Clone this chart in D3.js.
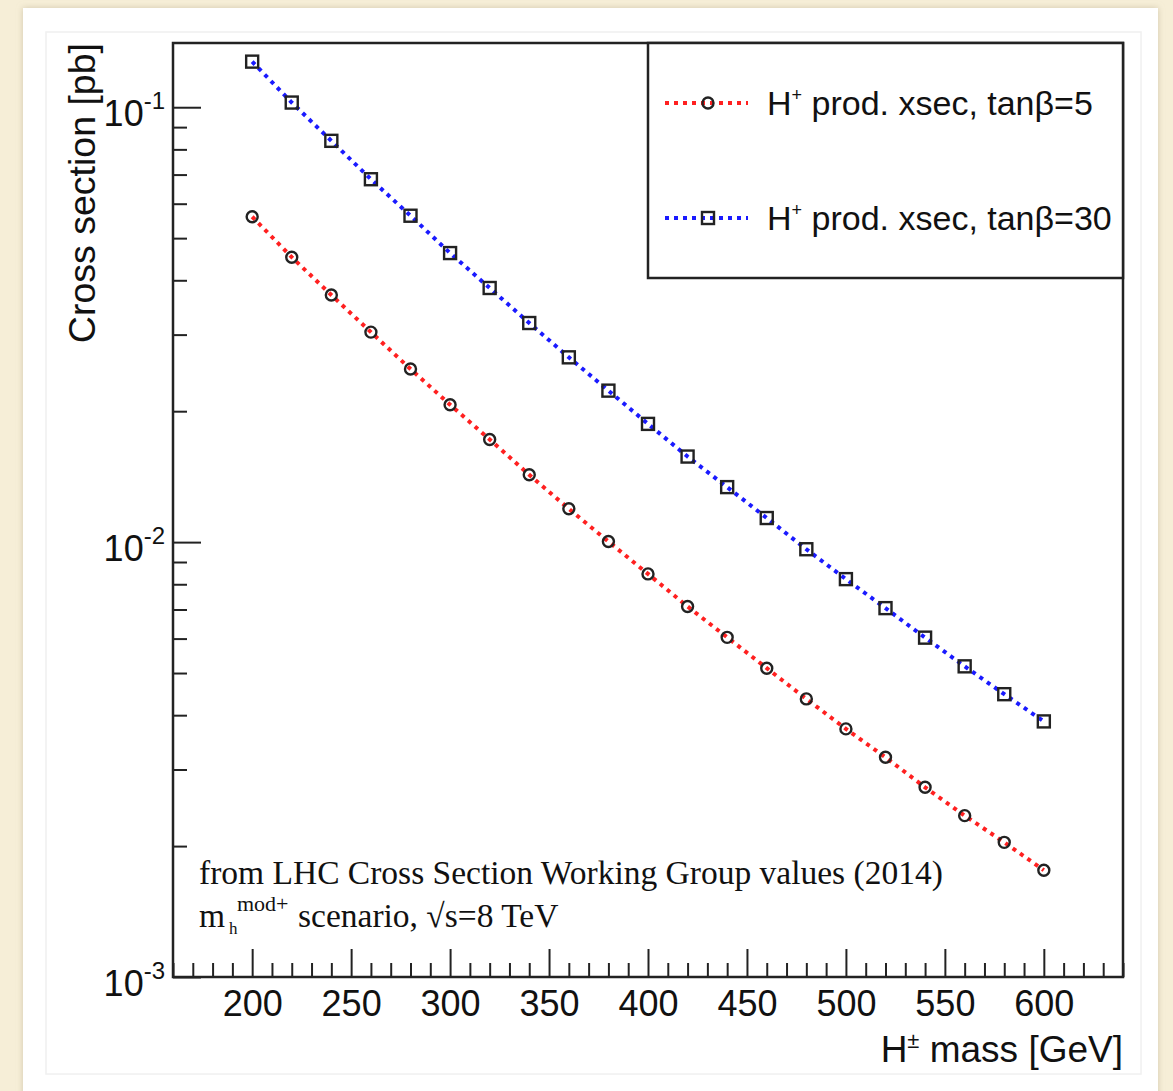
<!DOCTYPE html>
<html>
<head>
<meta charset="utf-8">
<script src="https://cdn.jsdelivr.net/npm/d3@7"></script>
<style>
  body { margin: 0; background: #f6eed7; }
  svg text { font-family: "Liberation Sans", Arial, Helvetica, sans-serif; fill: #111; }
  .serif { font-family: "Liberation Serif", "Times New Roman", serif; }
</style>
</head>
<body>
<div id="chart"></div>
<script>
// H+ mass points [GeV]
var masses = [200, 220, 240, 260, 280, 300, 320, 340, 360, 380, 400,
              420, 440, 460, 480, 500, 520, 540, 560, 580, 600];

// production cross section [pb], tan(beta)=5
var xsecTan5 = [0.0560, 0.0452, 0.0370, 0.0304, 0.0250, 0.0207, 0.01722, 0.01428, 0.01193, 0.01003, 0.00845,
                0.00711, 0.00604, 0.00513, 0.00436, 0.00372, 0.00320, 0.00273, 0.00235, 0.00204, 0.00176];

// production cross section [pb], tan(beta)=30
var xsecTan30 = [0.1273, 0.1025, 0.0837, 0.0683, 0.0563, 0.0462, 0.0384, 0.0319, 0.0266, 0.0223, 0.0187,
                 0.01573, 0.01338, 0.01136, 0.00963, 0.00822, 0.00705, 0.00603, 0.00518, 0.00447, 0.00387];

var xMajorTicks = [200, 250, 300, 350, 400, 450, 500, 550, 600];
var yDecadeTicks = [0.001, 0.01, 0.1];
var yDecadeExp = ["-3", "-2", "-1"];

var svgWidth = 1173;
var svgHeight = 1091;

var margin = { top: 43, right: 50, bottom: 114, left: 173 };
var width = svgWidth - margin.left - margin.right;
var height = svgHeight - margin.top - margin.bottom;

var svg = d3.select("#chart")
  .append("svg")
  .attr("width", svgWidth)
  .attr("height", svgHeight);

// paper card behind the plot
var defs = svg.append("defs");
var shadow = defs.append("filter").attr("id", "shadow")
  .attr("x", "-5%").attr("y", "-5%").attr("width", "110%").attr("height", "110%");
shadow.append("feDropShadow")
  .attr("dx", 0).attr("dy", 0).attr("stdDeviation", 3)
  .attr("flood-color", "#b8ad90").attr("flood-opacity", 0.6);

svg.append("rect")
  .attr("x", 23).attr("y", 8)
  .attr("width", 1135).attr("height", 1100)
  .attr("fill", "#fff")
  .attr("filter", "url(#shadow)");

svg.append("rect")
  .attr("x", 46).attr("y", 32)
  .attr("width", 1095).attr("height", 1042)
  .attr("fill", "none")
  .attr("stroke", "#f0f0f0")
  .attr("stroke-width", 1.5);

var chartGroup = svg.append("g")
  .attr("transform", `translate(${margin.left}, ${margin.top})`);

var xScale = d3.scaleLinear()
  .domain([160, 640])
  .range([0, width]);

var yScale = d3.scaleLog()
  .domain([0.001, 0.1405])
  .range([height, 0]);

// minor ticks
var xMinorTicks = d3.range(160, 641, 10).filter(d => d % 50 !== 0);
var yMinorTicks = [];
[0.001, 0.01, 0.1].forEach(function(dec) {
  for (var m = 2; m <= 9; m++) {
    var v = dec * m;
    if (v < 0.1405) yMinorTicks.push(v);
  }
});

// x axis (ticks point inwards)
chartGroup.append("g")
  .attr("transform", `translate(0, ${height})`)
  .call(d3.axisBottom(xScale).tickValues(xMinorTicks).tickSize(-14).tickFormat(""));

var xMajorAxis = chartGroup.append("g")
  .attr("transform", `translate(0, ${height})`)
  .call(d3.axisBottom(xScale).tickValues(xMajorTicks).tickSize(-28).tickPadding(13)
    .tickFormat(d3.format("d")));

xMajorAxis.selectAll("text")
  .style("font-size", "36px")
  .attr("dy", "0.72em");

// y axis
chartGroup.append("g")
  .call(d3.axisLeft(yScale).tickValues(yMinorTicks).tickSize(-14).tickFormat(""));

chartGroup.append("g")
  .call(d3.axisLeft(yScale).tickValues(yDecadeTicks).tickSize(-28).tickFormat(""));

chartGroup.selectAll(".domain").remove();
chartGroup.selectAll(".tick line")
  .attr("stroke", "#222")
  .attr("stroke-width", 2);

// y tick labels 10^n
var yLabels = chartGroup.append("g");
yDecadeTicks.forEach(function(v, i) {
  var t = yLabels.append("text")
    .attr("x", -8)
    .attr("y", yScale(v) + 19)
    .attr("text-anchor", "end")
    .style("font-size", "36px");
  t.append("tspan").text("10");
  t.append("tspan")
    .attr("dy", -17)
    .style("font-size", "24px")
    .text(yDecadeExp[i]);
});

// frame
chartGroup.append("rect")
  .attr("width", width)
  .attr("height", height)
  .attr("fill", "none")
  .attr("stroke", "#222")
  .attr("stroke-width", 2.5);

// series
var series = [
  { values: xsecTan5, color: "#ff2020", marker: "circle", label: "=5" },
  { values: xsecTan30, color: "#1a1aff", marker: "square", label: "=30" }
];

var line = d3.line()
  .x(d => xScale(d.m))
  .y(d => yScale(d.v));

function drawMarker(g, kind, cx, cy) {
  if (kind === "circle") {
    g.append("circle")
      .attr("cx", cx).attr("cy", cy).attr("r", 5.5)
      .attr("fill", "none")
      .attr("stroke", "#222")
      .attr("stroke-width", 2.4);
  } else {
    g.append("rect")
      .attr("x", cx - 6).attr("y", cy - 6)
      .attr("width", 12).attr("height", 12)
      .attr("fill", "none")
      .attr("stroke", "#222")
      .attr("stroke-width", 2.4);
  }
}

series.forEach(function(s) {
  var pts = masses.map((m, i) => ({ m: m, v: s.values[i] }));

  chartGroup.append("path")
    .datum(pts)
    .attr("d", line)
    .attr("fill", "none")
    .attr("stroke", s.color)
    .attr("stroke-width", 4)
    .attr("stroke-dasharray", "4,5");

  var mg = chartGroup.append("g");
  pts.forEach(function(p) {
    drawMarker(mg, s.marker, xScale(p.m), yScale(p.v));
  });
});

// legend
var legend = svg.append("g").attr("transform", "translate(648, 43)");

legend.append("rect")
  .attr("width", 475)
  .attr("height", 235)
  .attr("fill", "#fff")
  .attr("stroke", "#222")
  .attr("stroke-width", 2.5);

var rowY = [60, 175];
series.forEach(function(s, i) {
  var row = legend.append("g").attr("transform", `translate(0, ${rowY[i]})`);
  row.append("line")
    .attr("x1", 17).attr("x2", 100)
    .attr("y1", 0).attr("y2", 0)
    .attr("stroke", s.color)
    .attr("stroke-width", 4)
    .attr("stroke-dasharray", "4,5");
  drawMarker(row, s.marker, 60, 0);

  var t = row.append("text")
    .attr("x", 119)
    .attr("y", 12)
    .style("font-size", "34px");
  t.append("tspan").text("H");
  t.append("tspan").attr("dy", -14).style("font-size", "18px").text("+");
  t.append("tspan").attr("dy", 14).text(" prod. xsec, tan\u03b2" + s.label);
});

// axis titles
svg.append("text")
  .attr("x", margin.left + width)
  .attr("y", 1062)
  .attr("text-anchor", "end")
  .style("font-size", "37px")
  .call(function(t) {
    t.append("tspan").text("H");
    t.append("tspan").attr("dy", -14).style("font-size", "22px").text("\u00b1");
    t.append("tspan").attr("dy", 14).text(" mass [GeV]");
  });

svg.append("text")
  .attr("transform", `translate(95, ${margin.top}) rotate(-90)`)
  .attr("text-anchor", "end")
  .style("font-size", "37.5px")
  .text("Cross section [pb]");

// annotation
svg.append("text")
  .attr("class", "serif")
  .attr("x", 199)
  .attr("y", 884)
  .style("font-size", "33.5px")
  .text("from LHC Cross Section Working Group values (2014)");

var note = svg.append("text")
  .attr("class", "serif")
  .attr("y", 927)
  .style("font-size", "33.5px");
note.append("tspan").attr("x", 199).text("m");
note.append("tspan").attr("x", 229).attr("dy", 7).style("font-size", "17px").text("h");
note.append("tspan").attr("x", 237).attr("dy", -23).style("font-size", "22px").text("mod+");
note.append("tspan").attr("x", 298).attr("dy", 16).text("scenario, \u221as=8 TeV");
</script>
</body>
</html>
